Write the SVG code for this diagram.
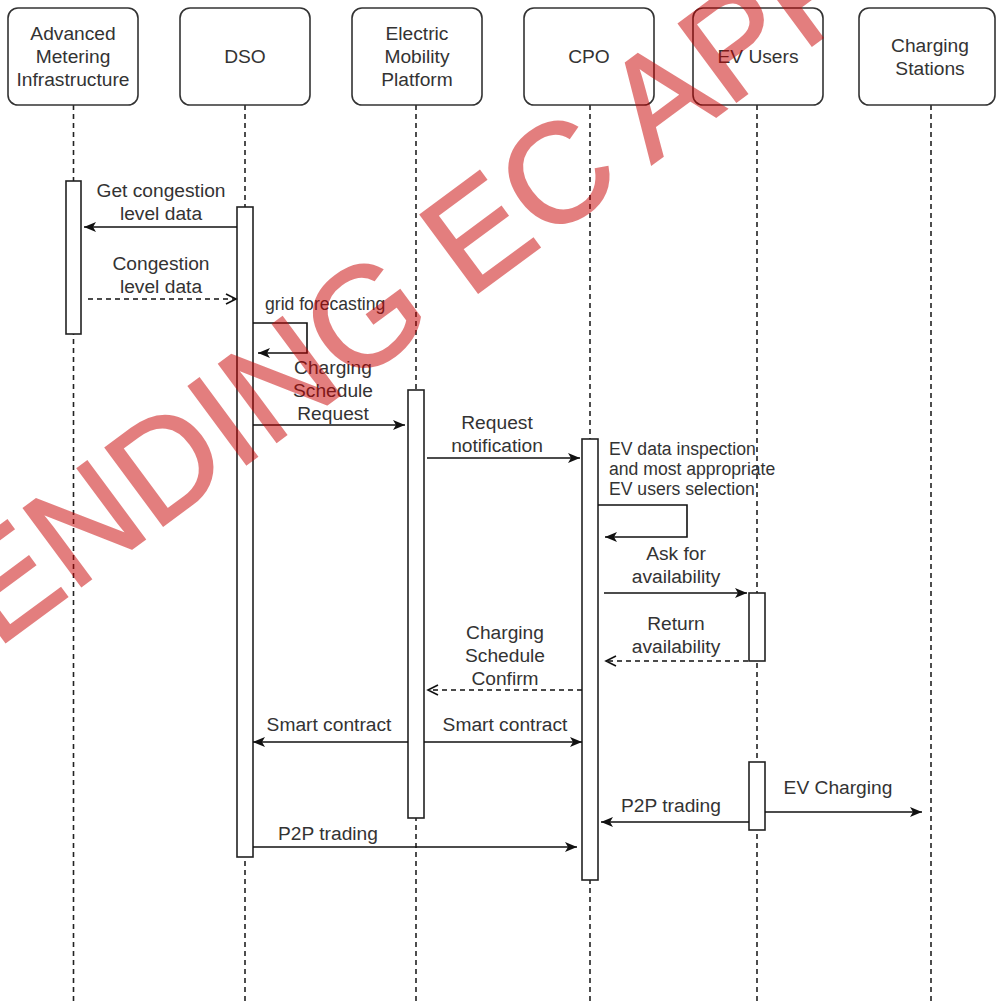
<svg xmlns="http://www.w3.org/2000/svg" width="997" height="1004" viewBox="0 0 997 1004">
  <style>
    .box { fill: #fff; stroke: #333; stroke-width: 1.6; }
    .life { fill: none; stroke: #222; stroke-width: 1.6; stroke-dasharray: 5 4; }
    .act { fill: #fff; stroke: #222; stroke-width: 1.6; }
    .msg { fill: none; stroke: #111; stroke-width: 1.6; }
    .dash { stroke-dasharray: 5 4; }
    .hd { font-family: "Liberation Sans", Arial, sans-serif; font-size: 19.2px; fill: #333; text-anchor: middle; }
    .lbl { font-family: "Liberation Sans", Arial, sans-serif; font-size: 19.2px; fill: #333; text-anchor: middle; }
    .sm { font-family: "Liberation Sans", Arial, sans-serif; font-size: 17.6px; fill: #333; }
    .wm { font-family: "Liberation Sans", Arial, sans-serif; font-size: 141px; fill: #c80000; stroke: #c80000; stroke-width: 2; }
  </style>
  <defs>
    <marker id="solidHead" markerWidth="13" markerHeight="11" refX="12" refY="5.5" orient="auto" markerUnits="userSpaceOnUse">
      <path d="M0,0.5 L12,5.5 L0,10.5 L3,5.5 Z" fill="#111"/>
    </marker>
    <marker id="openHead" markerWidth="13" markerHeight="13" refX="11" refY="6.5" orient="auto" markerUnits="userSpaceOnUse">
      <path d="M1,1.5 L11,6.5 L1,11.5" fill="none" stroke="#111" stroke-width="1.6" stroke-dasharray="none"/>
    </marker>
  </defs>
  <rect width="997" height="1004" fill="#fff"/>

  <!-- lifelines -->
  <g id="lifelines">
    <line class="life" x1="73.5" y1="105" x2="73.5" y2="1004"/>
    <line class="life" x1="245" y1="105" x2="245" y2="1004"/>
    <line class="life" x1="416" y1="105" x2="416" y2="1004"/>
    <line class="life" x1="590" y1="105" x2="590" y2="1004"/>
    <line class="life" x1="757" y1="105" x2="757" y2="1004"/>
    <line class="life" x1="931" y1="105" x2="931" y2="1004"/>
  </g>

  <!-- participants -->
  <g id="ami">
    <rect class="box" x="8" y="8" width="130" height="97" rx="10"/>
    <text class="hd" x="73" y="40">Advanced</text>
    <text class="hd" x="73" y="63">Metering</text>
    <text class="hd" x="73" y="86">Infrastructure</text>
    <rect class="act" x="66" y="181" width="15" height="153"/>
  </g>
  <g id="dso">
    <rect class="box" x="180" y="8" width="130" height="97" rx="10"/>
    <text class="hd" x="245" y="63">DSO</text>
    <rect class="act" x="237" y="207" width="16" height="650"/>
  </g>
  <g id="emp">
    <rect class="box" x="352" y="8" width="130" height="97" rx="10"/>
    <text class="hd" x="417" y="40">Electric</text>
    <text class="hd" x="417" y="63">Mobility</text>
    <text class="hd" x="417" y="86">Platform</text>
    <rect class="act" x="408" y="390" width="16" height="428"/>
  </g>
  <g id="cpo">
    <rect class="box" x="524" y="8" width="130" height="97" rx="10"/>
    <text class="hd" x="589" y="63">CPO</text>
    <rect class="act" x="582" y="439" width="16" height="441"/>
  </g>
  <g id="ev-users">
    <rect class="box" x="693" y="8" width="130" height="97" rx="10"/>
    <text class="hd" x="758" y="63">EV Users</text>
    <rect class="act" x="749" y="593" width="16" height="68"/>
    <rect class="act" x="749" y="762" width="16" height="68"/>
  </g>
  <g id="charging-stations">
    <rect class="box" x="859" y="8" width="136" height="97" rx="10"/>
    <text class="hd" x="930" y="52">Charging</text>
    <text class="hd" x="930" y="75">Stations</text>
  </g>

  <!-- messages -->
  <g id="connectors">
    <line class="msg" x1="237" y1="227" x2="84" y2="227" marker-end="url(#solidHead)"/>
    <line class="msg dash" x1="88" y1="299" x2="236" y2="299" marker-end="url(#openHead)"/>
    <path class="msg" d="M253,323 H307 V353 H258" marker-end="url(#solidHead)"/>
    <line class="msg" x1="253" y1="425" x2="405" y2="425" marker-end="url(#solidHead)"/>
    <line class="msg" x1="427" y1="458" x2="580" y2="458" marker-end="url(#solidHead)"/>
    <path class="msg" d="M598,505 H687 V537 H605" marker-end="url(#solidHead)"/>
    <line class="msg" x1="604" y1="593" x2="747" y2="593" marker-end="url(#solidHead)"/>
    <line class="msg dash" x1="748" y1="661" x2="606" y2="661" marker-end="url(#openHead)"/>
    <line class="msg dash" x1="582" y1="690" x2="428" y2="690" marker-end="url(#openHead)"/>
    <line class="msg" x1="408" y1="742" x2="253" y2="742" marker-end="url(#solidHead)"/>
    <line class="msg" x1="424" y1="742" x2="582" y2="742" marker-end="url(#solidHead)"/>
    <line class="msg" x1="749" y1="822" x2="601" y2="822" marker-end="url(#solidHead)"/>
    <line class="msg" x1="765" y1="812" x2="922" y2="812" marker-end="url(#solidHead)"/>
    <line class="msg" x1="253" y1="847" x2="577" y2="847" marker-end="url(#solidHead)"/>
  </g>

  <!-- message labels -->
  <g id="labels">
    <text class="lbl" x="161" y="197">Get congestion</text>
    <text class="lbl" x="161" y="220">level data</text>
    <text class="lbl" x="161" y="270">Congestion</text>
    <text class="lbl" x="161" y="293">level data</text>
    <text class="sm" x="265" y="310">grid forecasting</text>
    <text class="lbl" x="333" y="374">Charging</text>
    <text class="lbl" x="333" y="397">Schedule</text>
    <text class="lbl" x="333" y="420">Request</text>
    <text class="lbl" x="497" y="429">Request</text>
    <text class="lbl" x="497" y="452">notification</text>
    <text class="sm" x="609" y="455">EV data inspection</text>
    <text class="sm" x="609" y="475">and most appropriate</text>
    <text class="sm" x="609" y="495">EV users selection</text>
    <text class="lbl" x="676" y="560">Ask for</text>
    <text class="lbl" x="676" y="583">availability</text>
    <text class="lbl" x="676" y="630">Return</text>
    <text class="lbl" x="676" y="653">availability</text>
    <text class="lbl" x="505" y="639">Charging</text>
    <text class="lbl" x="505" y="662">Schedule</text>
    <text class="lbl" x="505" y="685">Confirm</text>
    <text class="lbl" x="329" y="731">Smart contract</text>
    <text class="lbl" x="505" y="731">Smart contract</text>
    <text class="lbl" x="671" y="812">P2P trading</text>
    <text class="lbl" x="838" y="794">EV Charging</text>
    <text class="lbl" x="328" y="840">P2P trading</text>
  </g>

  <!-- watermark stamp -->
  <g id="watermark" opacity="0.5">
    <text class="wm" x="0" y="0" transform="translate(-79,705) rotate(-36.5)">PENDING EC APPROVAL</text>
  </g>
</svg>
